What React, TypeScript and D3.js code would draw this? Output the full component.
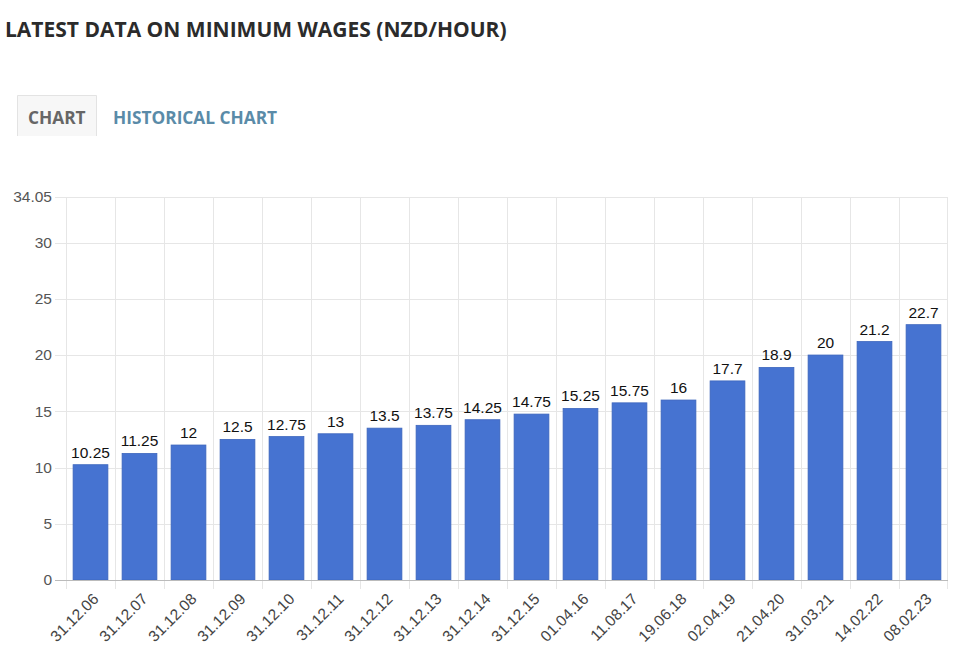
import React from "react";
import * as d3 from "d3";

const categories = ["31.12.06","31.12.07","31.12.08","31.12.09","31.12.10","31.12.11","31.12.12","31.12.13","31.12.14","31.12.15","01.04.16","11.08.17","19.06.18","02.04.19","21.04.20","31.03.21","14.02.22","08.02.23"];
const values = [10.25,11.25,12,12.5,12.75,13,13.5,13.75,14.25,14.75,15.25,15.75,16,17.7,18.9,20,21.2,22.7];
const yTicks = [0,5,10,15,20,25,30,34.05];
const title = "LATEST DATA ON MINIMUM WAGES (NZD/HOUR)";
const tabs = ["CHART","HISTORICAL CHART"];

export default function App() {
  const W = 960, H = 662;
  const left = 66, right = 948, top = 197, bottom = 580;
  const x = d3.scaleBand().domain(categories).range([left, right]).paddingInner(0.29).paddingOuter(0.145);
  const xg = d3.scaleBand().domain(categories).range([left, right]);
  const y = d3.scaleLinear().domain([0, 34.05]).range([bottom, top]);
  const font = "'Liberation Sans', Arial, Helvetica, sans-serif";
  return (
    <svg width={W} height={H} style={{ position: "absolute", left: 0, top: 0, background: "#fff" }}>
      <rect width={W} height={H} fill="#fff" />
      <text x={5} y={37} fontFamily="'Open Sans', sans-serif" fontWeight={700} fontSize={21} fill="#2b2b2b">{title}</text>
      <path d="M17.5,136 V95.5 H96.5 V136" fill="#f7f7f7" stroke="#e3e3e3" />
      <text x={28} y={124} fontFamily="'Open Sans', sans-serif" fontWeight={700} fontSize={17.3} fill="#666">{tabs[0]}</text>
      <text x={113} y={124} fontFamily="'Open Sans', sans-serif" fontWeight={700} fontSize={17.3} fill="#5a8ba8">{tabs[1]}</text>
      {yTicks.map((t) => (
        <g key={t}>
          <line x1={55} x2={right} y1={Math.round(y(t)) + 0.5} y2={Math.round(y(t)) + 0.5} stroke={t === 0 ? "#bbb" : "#e6e6e6"} />
          <text x={52} y={y(t)} dy="0.35em" textAnchor="end" fontFamily={font} fontSize={15.5} fill="#555">{t}</text>
        </g>
      ))}
      {categories.map((c) => (
        <line key={"g" + c} x1={Math.round(xg(c)!) + 0.5} x2={Math.round(xg(c)!) + 0.5} y1={top} y2={589} stroke="#e6e6e6" />
      ))}
      <line x1={Math.round(right) - 0.5} x2={Math.round(right) - 0.5} y1={top} y2={589} stroke="#e6e6e6" />
      {categories.map((c, i) => (
        <g key={c}>
          <rect x={x(c)!} y={y(values[i])} width={x.bandwidth()} height={bottom - y(values[i])} fill="#4673d1" stroke="#3d66bd" strokeWidth={0.8} />
          <text x={x(c)! + x.bandwidth() / 2} y={y(values[i]) - 7} textAnchor="middle" fontFamily={font} fontSize={15.5} fill="#111">{values[i]}</text>
          <text transform={`translate(${xg(c)! + xg.bandwidth() / 2 + 9},${600}) rotate(-45)`} textAnchor="end" fontFamily={font} fontSize={15.5} fill="#444">{c}</text>
        </g>
      ))}
      <line x1={55} x2={right} y1={bottom + 0.5} y2={bottom + 0.5} stroke="#bbb" />
    </svg>
  );
}
